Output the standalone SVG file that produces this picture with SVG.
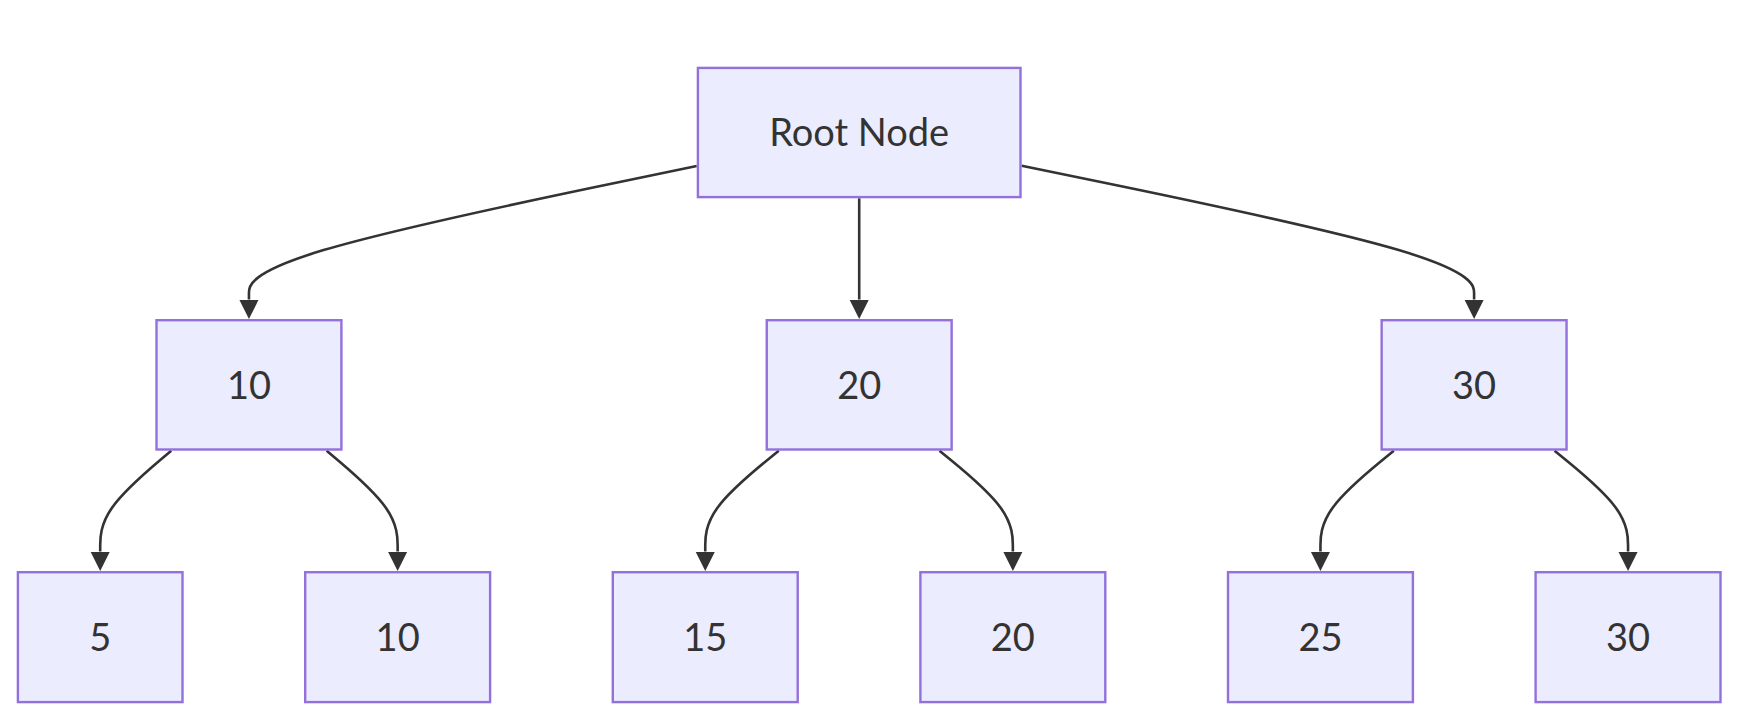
<svg xmlns="http://www.w3.org/2000/svg" width="1744" height="726" viewBox="0 0 1744 726">
<style>
.node rect{fill:#ECECFF;stroke:#9370DB;stroke-width:2.4}
.node text{font-family:Lato,"Liberation Sans",sans-serif;font-size:38px;fill:#333333;text-anchor:middle}
.edge{fill:none;stroke:#333333;stroke-width:2.6}
</style>
<defs>
<marker id="arrow" viewBox="0 0 10 10" refX="0" refY="5" markerUnits="userSpaceOnUse" markerWidth="19.5" markerHeight="20" orient="auto">
<path d="M0,0 L10,5 L0,10 z" fill="#333333"/>
</marker>
</defs>
<rect width="1744" height="726" fill="#ffffff"/>
<g id="connectors">
<path class="edge" marker-end="url(#arrow)" d="M696.7,166.1 L622.07,181.53 C547.45,196.95 398.2,227.8 323.58,250.12 C248.95,272.43 248.95,286.22 248.95,293.11 L248.95,299.5"/>
<path class="edge" marker-end="url(#arrow)" d="M859.2,198.3 L859.2,299.5"/>
<path class="edge" marker-end="url(#arrow)" d="M1021.7,165.8 L1097.1,181.28 C1172.5,196.75 1323.3,227.7 1398.7,250.07 C1474.1,272.43 1474.1,286.22 1474.1,293.11 L1474.1,299.5"/>
<path class="edge" marker-end="url(#arrow)" d="M171.21,450.7 L159.37,460.73 C147.54,470.75 123.87,490.8 112.04,507.68 C100.2,524.57 100.2,538.28 100.2,545.14 L100.2,551.5"/>
<path class="edge" marker-end="url(#arrow)" d="M326.66,450.7 L338.49,460.73 C350.32,470.75 373.99,490.8 385.82,507.68 C397.65,524.57 397.65,538.28 397.65,545.14 L397.65,551.5"/>
<path class="edge" marker-end="url(#arrow)" d="M778.75,450.7 L766.5,460.73 C754.25,470.75 729.75,490.8 717.5,507.68 C705.25,524.57 705.25,538.28 705.25,545.14 L705.25,551.5"/>
<path class="edge" marker-end="url(#arrow)" d="M939.5,450.7 L951.73,460.73 C963.95,470.75 988.4,490.8 1000.63,507.68 C1012.85,524.57 1012.85,538.28 1012.85,545.14 L1012.85,551.5"/>
<path class="edge" marker-end="url(#arrow)" d="M1393.8,450.7 L1381.58,460.73 C1369.35,470.75 1344.9,490.8 1332.68,507.68 C1320.45,524.57 1320.45,538.28 1320.45,545.14 L1320.45,551.5"/>
<path class="edge" marker-end="url(#arrow)" d="M1554.55,450.7 L1566.8,460.73 C1579.05,470.75 1603.55,490.8 1615.8,507.68 C1628.05,524.57 1628.05,538.28 1628.05,545.14 L1628.05,551.5"/>
</g>
<g id="root" class="node"><rect x="697.9" y="67.9" width="322.6" height="129.2"/><text x="859.2" y="146">Root Node</text></g>
<g id="n10" class="node"><rect x="156.5" y="320.2" width="184.9" height="129.3"/><text x="248.95" y="398.5">10</text></g>
<g id="n20" class="node"><rect x="766.75" y="320.2" width="184.9" height="129.3"/><text x="859.2" y="398.5">20</text></g>
<g id="n30" class="node"><rect x="1381.65" y="320.2" width="184.9" height="129.3"/><text x="1474.1" y="398.5">30</text></g>
<g id="n5" class="node"><rect x="17.9" y="572.2" width="164.6" height="129.9"/><text x="100.2" y="651">5</text></g>
<g id="n10b" class="node"><rect x="305.2" y="572.2" width="184.9" height="129.9"/><text x="397.65" y="651">10</text></g>
<g id="n15" class="node"><rect x="612.8" y="572.2" width="184.9" height="129.9"/><text x="705.25" y="651">15</text></g>
<g id="n20b" class="node"><rect x="920.4" y="572.2" width="184.9" height="129.9"/><text x="1012.85" y="651">20</text></g>
<g id="n25" class="node"><rect x="1228" y="572.2" width="184.9" height="129.9"/><text x="1320.45" y="651">25</text></g>
<g id="n30b" class="node"><rect x="1535.6" y="572.2" width="184.9" height="129.9"/><text x="1628.05" y="651">30</text></g>
</svg>
